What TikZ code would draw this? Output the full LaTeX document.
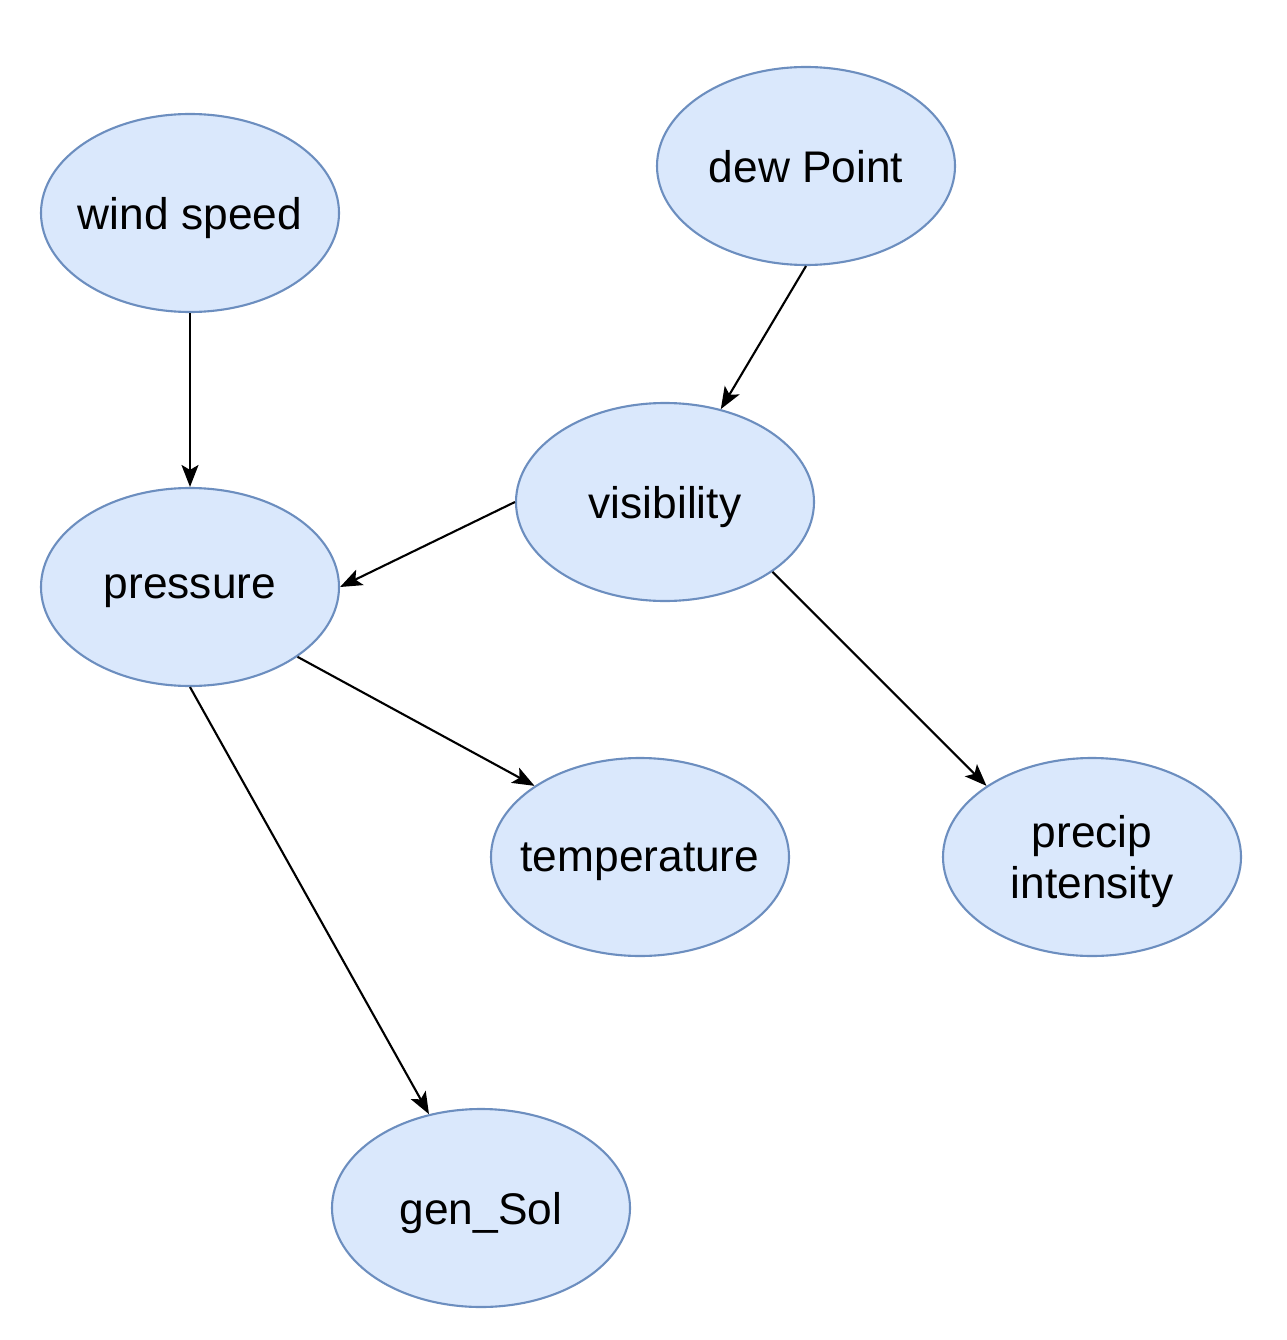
\documentclass[tikz,border=0pt]{standalone}
\usepackage{fontspec}
\setmainfont{Liberation Sans}
\usetikzlibrary{shapes.geometric,arrows.meta}
\definecolor{varfill}{HTML}{DAE8FC}
\definecolor{varline}{HTML}{6C8EBF}

\begin{document}
\begin{tikzpicture}[
    var/.style={ellipse, draw=varline, fill=varfill, line width=0.6pt,
        minimum width=2.98cm, minimum height=1.98cm, inner xsep=-0.5cm, inner ysep=0pt,
        text depth=0pt, align=center, font=\fontsize{12.6}{14.4}\selectfont},
    link/.style={-{Stealth[length=0.22cm, width=0.17cm, inset=0.05cm]}, line width=0.6pt}]
    \useasboundingbox (0,0) rectangle (12.86,-13.4);

    % variables
    \node [var] (wind) at (1.90,-2.13) {wind speed};
    \node [var] (dew) at (8.06,-1.66) {dew Point};
    \node [var] (vis) at (6.65,-5.02) {visibility};
    \node [var] (pres) at (1.90,-5.87) {pressure};
    \node [var] (temp) at (6.40,-8.57) {temperature};
    \node [var] (precip) at (10.92,-8.57) {precip\\intensity};
    \node [var] (gen) at (4.81,-12.08) {gen\_Sol};

    % dependencies
    \draw [link] (wind.south) -- (pres.north);
    \draw [link] (dew.south) -- (vis.59);
    \draw [link] (vis.west) -- (pres.east);
    \draw [link] (vis.-33.6) -- (precip.146);
    \draw [link] (pres.-33.6) -- (temp.146);
    \draw [link] (pres.south) -- (gen.119);
\end{tikzpicture}
\end{document}
